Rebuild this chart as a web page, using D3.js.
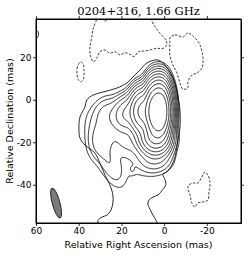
<!DOCTYPE html>
<html>
<head>
<meta charset="utf-8">
<script src="https://cdn.jsdelivr.net/npm/d3@7"></script>
<style>
  body { margin: 0; background: #fff; }
  svg { display: block; }
</style>
</head>
<body>
<svg id="map"></svg>
<script>
// axis ticks (mas)
const raTicks = [60, 40, 20, 0, -20];
const decTicks = [20, 0, -20, -40];

// source model: elliptical gaussian components (RA, Dec in mas, peak in units of lowest contour)
const compRA   = [1.5, 4.6, 10.5, 17.5, 27.5, 29, 35, 26, 4.5, 4.5, 14, 17, 15];
const compDec  = [-5.5, -5.5, -5.5, -6.5, -6, -17, -11, -29, -18, -27, -30, -19, -33];
const compPeak = [4540, 3200, 600, 70, 9, 12, 1.6, 7, 430, 18, 2.2, 10, 2];
const compMaj  = [5.85, 5.85, 4.9, 4.5, 4.5, 6, 6, 8, 3.6, 4, 6, 4.5, 1.4];
const compMin  = [2.16, 2.2, 2.6, 3.5, 3.5, 3.5, 3, 3.2, 3.5, 4.5, 7, 5, 1.0];
const compPA   = [0, 0, 0, -20, -20, -15, 0, 25, 0, 0, 0, -20, 0];

// contour levels above the lowest one (factor 2 steps)
const levels = [2, 4, 8, 16, 32, 64, 128, 256, 512, 1024, 2048];

// lowest positive contour, traced [RA, Dec]
const lowestContour = [
  [30.5, -59.4], [31.0, -56.8], [29.1, -55.2], [26.8, -54.3], [24.9, -51.9], [24.0, -48.6],
  [24.0, -44.8], [25.4, -40.1], [27.7, -35.4], [30.1, -29.8], [32.4, -25.1], [37.1, -21.3],
  [39.4, -18.0], [39.9, -13.3], [39.4, -8.1], [37.1, -3.4], [36.2, -0.1], [33.3, 2.2],
  [28.7, 3.6], [22.1, 5.5], [17.4, 7.9], [14.6, 10.7], [11.3, 14.0], [8.1, 17.3],
  [4.3, 18.7], [2.9, 18.7], [0.6, 17.3], [-2.7, 13.1], [-5.1, 7.9], [-6.5, 1.3],
  [-7.4, -4.8], [-7.4, -13.3], [-6.5, -18.7], [-5.1, -26.7], [-3.7, -30.5], [-1.3, -33.8],
  [0.6, -35.2], [-0.4, -37.5], [-0.8, -39.9], [0.6, -42.2], [2.9, -44.8], [5.2, -45.8],
  [7.1, -47.2], [7.6, -49.1], [6.7, -51.4], [5.2, -54.3], [3.4, -57.5], [2.9, -59.8]
];
const edgeArc = [[60.4, 33.4], [59.1, 32.1], [58.8, 30.9], [59.1, 29.6], [60.4, 28.4]];

// negative contours (dashed), traced [RA, Dec]
const negTop = [
  [31.8, 39.5], [31.6, 38.0], [33.2, 33.6], [34.0, 28.9], [34.8, 24.2], [34.4, 20.3],
  [33.2, 17.9], [31.6, 19.5], [30.1, 22.6], [27.7, 23.4], [25.4, 21.9], [23.0, 22.6],
  [20.7, 21.1], [18.4, 22.1], [16.0, 21.4], [14.1, 20.3], [12.1, 22.6], [9.8, 22.9],
  [6.7, 23.4], [3.5, 24.2], [0.4, 24.2], [-1.2, 25.8], [-0.8, 28.1], [2.0, 31.3],
  [4.3, 34.4], [5.9, 37.5], [6.0, 39.5]
];
const negNW = [
  [-2.7, 29.1], [-5.1, 30.5], [-8.8, 29.5], [-11.1, 31.4], [-14.4, 29.1], [-16.8, 25.8],
  [-18.2, 19.6], [-17.7, 14.9], [-15.4, 12.6], [-13.0, 11.6], [-11.1, 8.3], [-11.1, 5.6],
  [-8.8, 5.0], [-7.4, 7.9], [-6.0, 12.6], [-4.1, 16.4], [-2.7, 21.1], [-2.7, 27.2]
];
const negSW = [
  [-11.6, -40.1], [-13.5, -39.2], [-15.8, -39.2], [-17.7, -36.3], [-19.1, -34.0], [-20.5, -35.4],
  [-21.5, -39.2], [-21.0, -43.4], [-20.5, -47.2], [-18.2, -48.1], [-15.8, -48.6], [-14.4, -50.5],
  [-13.0, -48.6], [-12.1, -44.8], [-11.1, -41.5]
];
const negEast = [[39.1, 17.9], [40.6, 15.5], [40.8, 12.0], [40.2, 9.5], [39.1, 8.5], [37.8, 9.8], [37.5, 13.0], [37.8, 16.3]];
const negTopTiny = [[28.8, 38.6], [28.3, 37.3], [27.2, 37.1], [26.6, 38.6]];

// restoring beam: position, FWHM axes (mas), PA (deg)
const beam = { ra: 50.6, dec: -48.6, maj: 14.6, min: 3.6, pa: 15 };

const W = 250, H = 255;
const plot = { left: 36, top: 19, right: 241, bottom: 223 };

const svg = d3.select('#map').attr('width', W).attr('height', H);

const x = d3.scaleLinear().domain([60, -36]).range([plot.left, plot.right]);
const y = d3.scaleLinear().domain([38, -58]).range([plot.top, plot.bottom]);

svg.append('clipPath').attr('id', 'clip')
  .append('rect')
    .attr('x', plot.left).attr('y', plot.top)
    .attr('width', plot.right - plot.left).attr('height', plot.bottom - plot.top);

// model grid
const step = 0.4;
const raMax = 66, decMax = 44;
const nx = 270, ny = 270;
const values = new Float64Array(nx * ny);
for (let j = 0; j < ny; j++) {
  const dec = decMax - j * step;
  for (let i = 0; i < nx; i++) {
    const ra = raMax - i * step;
    let v = 0;
    for (let c = 0; c < compRA.length; c++) {
      const t = compPA[c] * Math.PI / 180;
      const dx = ra - compRA[c], dy = dec - compDec[c];
      const u = dx * Math.sin(t) + dy * Math.cos(t);
      const w = dx * Math.cos(t) - dy * Math.sin(t);
      v += compPeak[c] * Math.exp(-(u * u) / (2 * compMaj[c] * compMaj[c]) - (w * w) / (2 * compMin[c] * compMin[c]));
    }
    values[j * nx + i] = v;
  }
}

const contours = d3.contours().size([nx, ny]).thresholds(levels)(values);

const gridPath = d3.geoPath(d3.geoTransform({
  point: function (gx, gy) {
    this.stream.point(x(raMax - (gx - 0.5) * step), y(decMax - (gy - 0.5) * step));
  }
}));

const maps = svg.append('g').attr('clip-path', 'url(#clip)');

maps.selectAll('path.level')
  .data(contours)
  .enter().append('path')
    .attr('class', 'level')
    .attr('d', gridPath)
    .attr('fill', 'none')
    .attr('stroke', '#111')
    .attr('stroke-width', 0.9);

const lineOpen = d3.line().x(d => x(d[0])).y(d => y(d[1])).curve(d3.curveCatmullRom);
const lineClosed = d3.line().x(d => x(d[0])).y(d => y(d[1])).curve(d3.curveCatmullRomClosed);

maps.append('path').attr('d', lineOpen(lowestContour))
  .attr('fill', 'none').attr('stroke', '#111').attr('stroke-width', 0.9);
maps.append('path').attr('d', lineOpen(edgeArc))
  .attr('fill', 'none').attr('stroke', '#111').attr('stroke-width', 0.9);

[negTop, negTopTiny].forEach(pts => {
  maps.append('path').attr('d', lineOpen(pts))
    .attr('fill', 'none').attr('stroke', '#111').attr('stroke-width', 0.8)
    .attr('stroke-dasharray', '2.5,1.5');
});
[negNW, negSW, negEast].forEach(pts => {
  maps.append('path').attr('d', lineClosed(pts))
    .attr('fill', 'none').attr('stroke', '#111').attr('stroke-width', 0.8)
    .attr('stroke-dasharray', '2.5,1.5');
});

// beam
svg.append('ellipse')
  .attr('cx', x(beam.ra)).attr('cy', y(beam.dec))
  .attr('rx', x(0) - x(beam.min / 2))
  .attr('ry', y(-beam.maj / 2) - y(0))
  .attr('transform', `rotate(${-beam.pa},${x(beam.ra)},${y(beam.dec)})`)
  .attr('fill', '#7a7a7a').attr('stroke', '#111').attr('stroke-width', 0.8);

// axes
const fmt = d => String(d);
svg.append('g').attr('transform', `translate(0,${plot.bottom})`)
  .call(d3.axisBottom(x).tickValues(raTicks).tickSize(3).tickPadding(1.5).tickSizeOuter(0).tickFormat(fmt));
svg.append('g').attr('transform', `translate(0,${plot.top})`)
  .call(d3.axisTop(x).tickValues(raTicks).tickSize(3).tickSizeOuter(0).tickFormat(''));
svg.append('g').attr('transform', `translate(${plot.left},0)`)
  .call(d3.axisLeft(y).tickValues(decTicks).tickSize(3).tickPadding(1.5).tickSizeOuter(0).tickFormat(fmt));
svg.append('g').attr('transform', `translate(${plot.right},0)`)
  .call(d3.axisRight(y).tickValues(decTicks).tickSize(3).tickSizeOuter(0).tickFormat(''));

svg.selectAll('.tick text')
  .attr('font-family', 'DejaVu Sans').attr('font-size', 9).attr('fill', '#000');
svg.selectAll('.domain').attr('stroke', '#000').attr('stroke-width', 1);
svg.selectAll('.tick line').attr('stroke', '#000').attr('stroke-width', 0.8);

svg.append('rect')
  .attr('x', plot.left).attr('y', plot.top)
  .attr('width', plot.right - plot.left).attr('height', plot.bottom - plot.top)
  .attr('fill', 'none').attr('stroke', '#000').attr('stroke-width', 1);

// titles
svg.append('text')
  .attr('x', (plot.left + plot.right) / 2).attr('y', 15)
  .attr('text-anchor', 'middle')
  .attr('font-family', 'DejaVu Serif').attr('font-size', 11.5)
  .text('0204+316, 1.66 GHz');

svg.append('text')
  .attr('x', (plot.left + plot.right) / 2).attr('y', 248)
  .attr('text-anchor', 'middle')
  .attr('font-family', 'DejaVu Sans').attr('font-size', 9.5)
  .text('Relative Right Ascension (mas)');

svg.append('text')
  .attr('transform', `translate(13,${(plot.top + plot.bottom) / 2}) rotate(-90)`)
  .attr('text-anchor', 'middle')
  .attr('font-family', 'DejaVu Sans').attr('font-size', 9.5)
  .text('Relative Declination (mas)');
</script>
</body>
</html>
